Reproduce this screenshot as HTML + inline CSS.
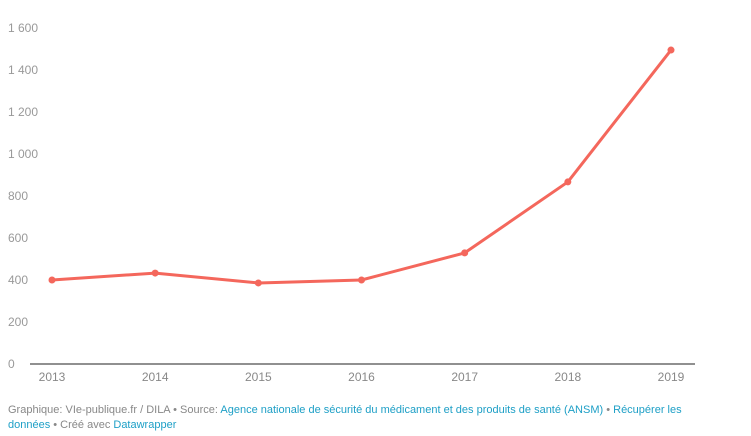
<!DOCTYPE html>
<html><head><meta charset="utf-8"><style>
html,body{margin:0;padding:0;background:#fff;width:751px;height:436px;overflow:hidden;font-family:"Liberation Sans",sans-serif}
.foot{position:absolute;left:8px;top:403px;width:700px;font-size:11px;line-height:15px;color:#888}
.foot a{color:#1d9fc6;text-decoration:none}
</style></head><body>
<svg id="chart" width="751" height="400" style="position:absolute;left:0;top:0"></svg>
<div class="foot">Graphique: VIe-publique.fr / DILA • Source: <a>Agence nationale de sécurité du médicament et des produits de santé (ANSM)</a> • <a>Récupérer les données</a> • Créé avec <a>Datawrapper</a></div>
<script>
const years=["2013","2014","2015","2016","2017","2018","2019"];
const values=[400,433,386,400,529,867,1495];
const yTicks=[0,200,400,600,800,1000,1200,1400,1600];
const yTickLabels=["0","200","400","600","800","1 000","1 200","1 400","1 600"];
const NS="http://www.w3.org/2000/svg";
const svg=document.getElementById('chart');
const x0=52,x1=671,yb=364,yt=28;
const xs=i=>x0+(x1-x0)*i/(years.length-1);
const ys=v=>yb-(yb-yt)*v/1600;
function mk(t,a){const e=document.createElementNS(NS,t);for(const k in a)e.setAttribute(k,a[k]);svg.appendChild(e);return e;}
yTicks.forEach((v,i)=>{
 const t=mk('text',{x:8,y:ys(v)+4,'font-size':12,fill:'#999'});
 
 
 t.textContent=yTickLabels[i];
});
const base=mk('line',{x1:30,x2:695,y1:yb,y2:yb,stroke:'#222','stroke-width':1});


years.forEach((y,i)=>{
 const t=mk('text',{x:xs(i),y:381,'font-size':12,fill:'#888','text-anchor':'middle'});
 
 
 t.textContent=y;
});
const line=mk('polyline',{points:values.map((v,i)=>xs(i)+','+ys(v)).join(' '),fill:'none',stroke:'#f4675c','stroke-width':3,'stroke-linejoin':'round'});


values.forEach((v,i)=>{
 const c=mk('circle',{cx:xs(i),cy:ys(v),r:3.5,fill:'#f4675c'});
 
 
});
</script>
</body></html>
